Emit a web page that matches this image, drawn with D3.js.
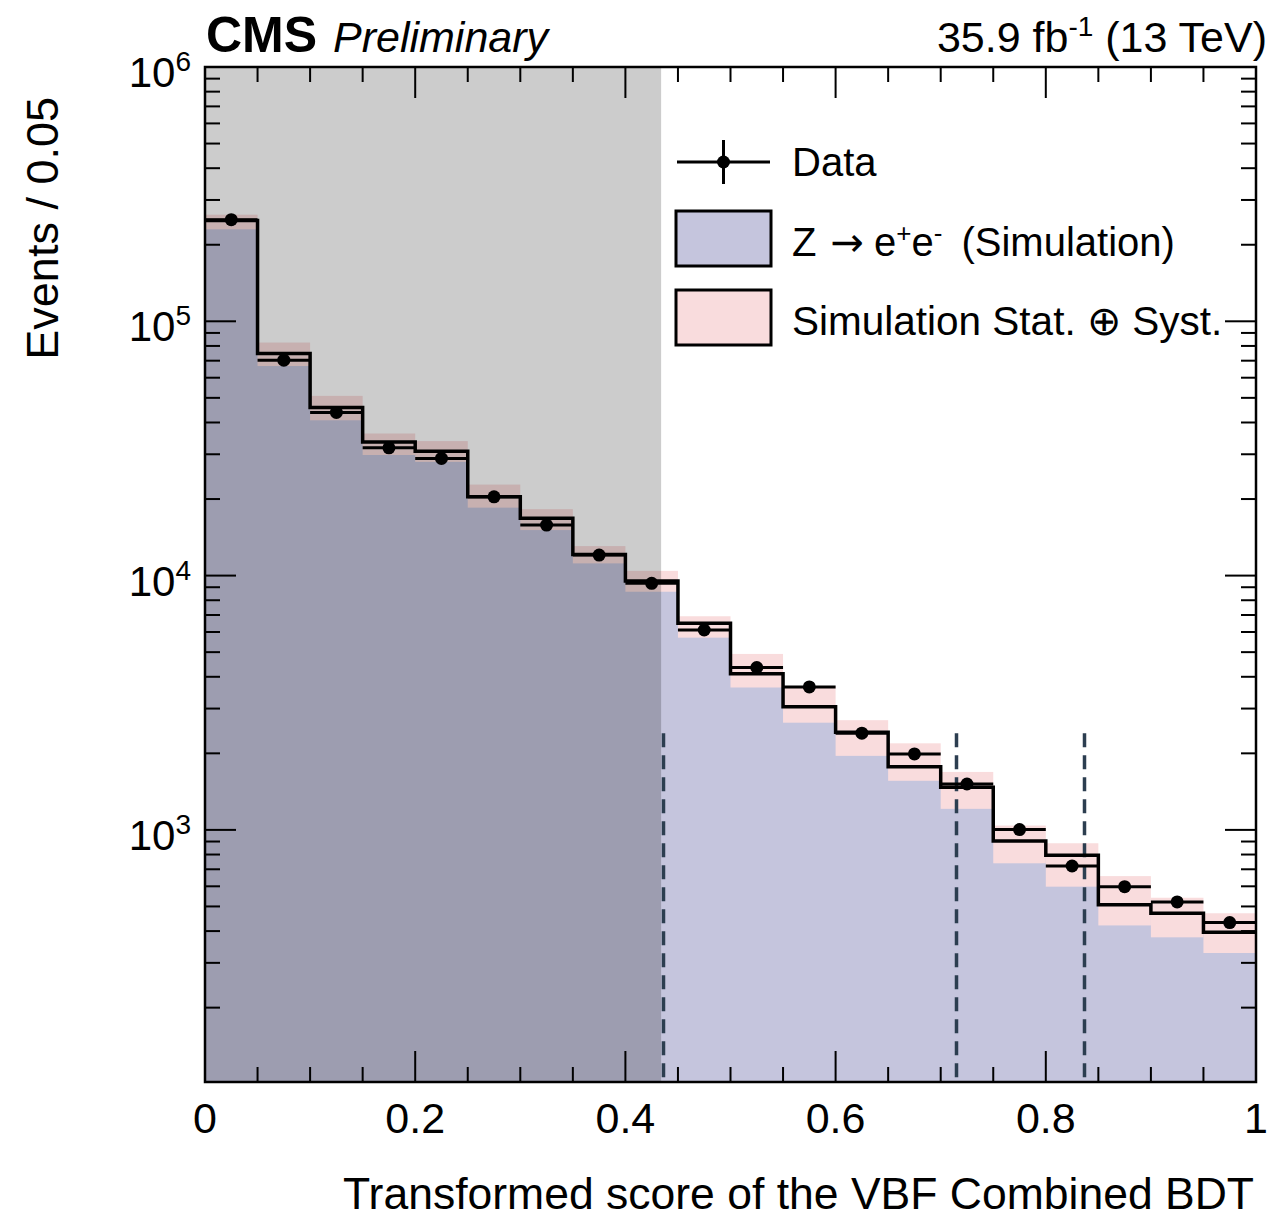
<!DOCTYPE html>
<html>
<head>
<meta charset="utf-8">
<script src="https://cdn.jsdelivr.net/npm/d3@7"></script>
<style>
  body { margin: 0; background: #fff; }
  svg text { font-family: "Liberation Sans", Arial, Helvetica, sans-serif; fill: #000; }
</style>
</head>
<body>
<svg id="chart" width="1273" height="1220"></svg>
<script>
// data ************************************************************
var binEdges = [0, 0.05, 0.1, 0.15, 0.2, 0.25, 0.3, 0.35, 0.4, 0.45,
                0.5, 0.55, 0.6, 0.65, 0.7, 0.75, 0.8, 0.85, 0.9, 0.95, 1];
var dataCounts = [251000, 70300, 43800, 31800, 28900, 20400, 15800, 12040, 9320, 6110,
                  4350, 3650, 2400, 1990, 1515, 1003, 721, 598, 521, 432];
var mcCounts   = [249000, 74700, 45800, 33500, 30800, 20400, 16800, 12100, 9520, 6500,
                  4110, 3050, 2420, 1770, 1470, 905, 794, 508, 470, 396];
var bandLow    = [230000, 66700, 40800, 29800, 28000, 18500, 15100, 11170, 8640, 5700,
                  3630, 2640, 1955, 1560, 1210, 739, 598, 421, 378, 328];
var bandHigh   = [262600, 82500, 50900, 36200, 33800, 22800, 18250, 13060, 10440, 6920,
                  4920, 3680, 2700, 2190, 1690, 1040, 886, 658, 541, 470];
var xTicks = [0, 0.2, 0.4, 0.6, 0.8, 1];
var xTickLabels = ["0", "0.2", "0.4", "0.6", "0.8", "1"];
var yMajor = [1e3, 1e4, 1e5, 1e6];
var yMajorExp = ["3", "4", "5", "6"];
var blindCut = 0.434;          // shaded region upper edge
var catCuts = [0.436, 0.715, 0.836];
var catLineTop = 2400;

(function() {
// layout ************************************************************
var pLeft = 205, pRight = 1256, pTop = 67, pBottom = 1082;
var fillColor = "#c5c5dd";
var bandColor = "#f9dcdd";

var svg = d3.select("#chart");

var x = d3.scaleLinear().domain([0, 1]).range([pLeft, pRight]);
var y = d3.scaleLog().domain([102, 1e6]).range([pBottom, pTop]);

var bins = mcCounts.map(function(d, i) {
  return { lo: binEdges[i], hi: binEdges[i + 1], mc: d, data: dataCounts[i], bl: bandLow[i], bh: bandHigh[i] };
});

// MC fill ************************************************************
var stepPts = bins.map(function(b) { return [b.lo, b.mc]; });
stepPts.push([1, mcCounts[mcCounts.length - 1]]);

var area = d3.area()
  .x(function(d) { return x(d[0]); })
  .y0(pBottom)
  .y1(function(d) { return y(d[1]); })
  .curve(d3.curveStepAfter);

svg.append("path").attr("d", area(stepPts)).attr("fill", fillColor);

// uncertainty band
svg.selectAll(".band").data(bins).enter().append("rect")
  .attr("x", function(d) { return x(d.lo); })
  .attr("width", function(d) { return x(d.hi) - x(d.lo); })
  .attr("y", function(d) { return y(d.bh); })
  .attr("height", function(d) { return y(d.bl) - y(d.bh); })
  .attr("fill", bandColor);

// category boundaries
svg.selectAll(".cut").data(catCuts).enter().append("line")
  .attr("x1", function(d) { return Math.round(x(d)) + 0.5; }).attr("x2", function(d) { return Math.round(x(d)) + 0.5; })
  .attr("y1", y(catLineTop)).attr("y2", pBottom)
  .attr("stroke", "#2c3e50").attr("stroke-width", 3.5).attr("stroke-dasharray", "14,8");

// MC step line
var line = d3.line()
  .x(function(d) { return x(d[0]); })
  .y(function(d) { return y(d[1]); })
  .curve(d3.curveStepAfter);

svg.append("path").attr("d", line(stepPts))
  .attr("fill", "none").attr("stroke", "#000").attr("stroke-width", 3.5);

// data points
svg.selectAll(".dbar").data(bins).enter().append("line")
  .attr("x1", function(d) { return x(d.lo); }).attr("x2", function(d) { return x(d.hi); })
  .attr("y1", function(d) { return y(d.data); }).attr("y2", function(d) { return y(d.data); })
  .attr("stroke", "#000").attr("stroke-width", 3);
svg.selectAll(".dot").data(bins).enter().append("circle")
  .attr("cx", function(d) { return x((d.lo + d.hi) / 2); })
  .attr("cy", function(d) { return y(d.data); })
  .attr("r", 6.5).attr("fill", "#000");

// shaded (blinded) region
svg.append("rect")
  .attr("x", x(0)).attr("y", pTop)
  .attr("width", x(blindCut) - x(0)).attr("height", pBottom - pTop)
  .attr("fill", "#000").attr("opacity", 0.2);

// axes ************************************************************
var yMinor = [];
[100, 1000, 10000, 100000].forEach(function(p) {
  for (var k = 2; k <= 9; k++) { if (p * k >= 102) yMinor.push(p * k); }
});

var ticks = svg.append("g").attr("stroke", "#000").attr("stroke-width", 2);
binEdges.forEach(function(v) {
  var len = xTicks.indexOf(v) >= 0 ? 31 : 15;
  ticks.append("line").attr("x1", x(v)).attr("x2", x(v)).attr("y1", pBottom).attr("y2", pBottom - len);
  ticks.append("line").attr("x1", x(v)).attr("x2", x(v)).attr("y1", pTop).attr("y2", pTop + len);
});
yMinor.concat(yMajor).forEach(function(v) {
  var len = yMajor.indexOf(v) >= 0 ? 31 : 15;
  ticks.append("line").attr("x1", pLeft).attr("x2", pLeft + len).attr("y1", y(v)).attr("y2", y(v));
  ticks.append("line").attr("x1", pRight).attr("x2", pRight - len).attr("y1", y(v)).attr("y2", y(v));
});

svg.append("rect").attr("x", pLeft).attr("y", pTop)
  .attr("width", pRight - pLeft).attr("height", pBottom - pTop)
  .attr("fill", "none").attr("stroke", "#000").attr("stroke-width", 2.5);

// tick labels
svg.selectAll(".xl").data(xTicks).enter().append("text")
  .attr("x", function(d) { return x(d); }).attr("y", 1133)
  .attr("text-anchor", "middle").attr("font-size", 43)
  .text(function(d, i) { return xTickLabels[i]; });

var yl = svg.selectAll(".yl").data(yMajor).enter().append("text")
  .attr("x", 191).attr("y", function(d) { return y(d) + 20; })
  .attr("text-anchor", "end").attr("font-size", 42);
yl.append("tspan").text("10");
yl.append("tspan").attr("font-size", 28).attr("dy", -16).text(function(d, i) { return yMajorExp[i]; });

// titles
svg.append("text").attr("x", 1254).attr("y", 1209).attr("text-anchor", "end")
  .attr("font-size", 44.5).text("Transformed score of the VBF Combined BDT");
svg.append("text").attr("transform", "translate(58,97) rotate(-90)")
  .attr("text-anchor", "end").attr("font-size", 45).text("Events / 0.05");

svg.append("text").attr("x", 206).attr("y", 52).attr("font-size", 50)
  .attr("font-weight", "bold").text("CMS");
svg.append("text").attr("x", 333).attr("y", 52).attr("font-size", 43)
  .attr("font-style", "italic").text("Preliminary");
var lumi = svg.append("text").attr("x", 1267).attr("y", 52).attr("text-anchor", "end").attr("font-size", 43);
lumi.append("tspan").text("35.9 fb");
lumi.append("tspan").attr("font-size", 28).attr("dy", -16).text("-1");
lumi.append("tspan").attr("dy", 16).text(" (13 TeV)");

// legend ************************************************************
var lg = svg.append("g");
lg.append("line").attr("x1", 677).attr("x2", 770).attr("y1", 162).attr("y2", 162)
  .attr("stroke", "#000").attr("stroke-width", 3);
lg.append("line").attr("x1", 723.5).attr("x2", 723.5).attr("y1", 140).attr("y2", 184)
  .attr("stroke", "#000").attr("stroke-width", 3);
lg.append("circle").attr("cx", 723.5).attr("cy", 162).attr("r", 6.5).attr("fill", "#000");
lg.append("text").attr("x", 792).attr("y", 176).attr("font-size", 40).text("Data");

lg.append("rect").attr("x", 676).attr("y", 211).attr("width", 95).attr("height", 55)
  .attr("fill", fillColor).attr("stroke", "#000").attr("stroke-width", 3);
var zt = lg.append("text").attr("x", 792).attr("y", 256).attr("font-size", 40);
zt.append("tspan").text("Z");
zt.append("tspan").attr("dx", 14).attr("font-family", "DejaVu Sans").attr("font-size", 40).text("\u2192");
zt.append("tspan").attr("dx", 10).text("e");
zt.append("tspan").attr("font-size", 26).attr("dy", -14).text("+");
zt.append("tspan").attr("dy", 14).text("e");
zt.append("tspan").attr("font-size", 26).attr("dy", -14).text("-");
zt.append("tspan").attr("dy", 14).attr("dx", 8).text(" (Simulation)");

lg.append("rect").attr("x", 676).attr("y", 290).attr("width", 95).attr("height", 55)
  .attr("fill", bandColor).attr("stroke", "#000").attr("stroke-width", 3);
lg.append("text").attr("x", 792).attr("y", 335).attr("font-size", 40.5)
  .text("Simulation Stat. \u2295 Syst.");
})();
</script>
</body>
</html>
